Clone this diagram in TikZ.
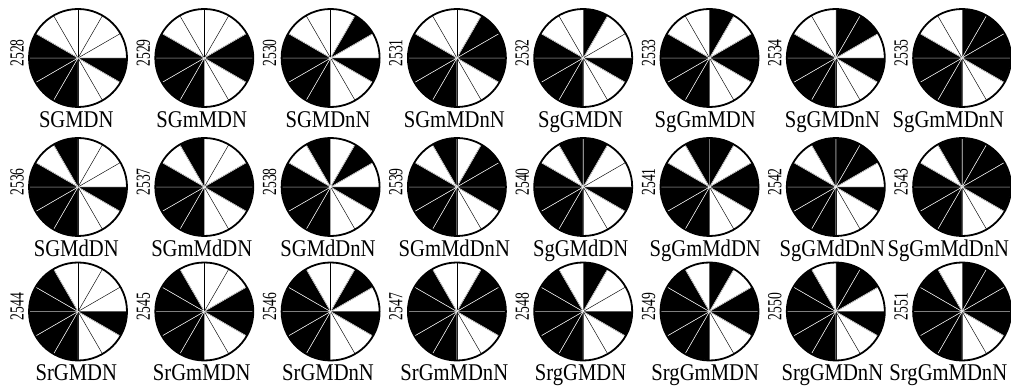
\documentclass[tikz,border=0pt]{standalone}
\usepackage{fontspec}
\setmainfont{Liberation Serif}
\usetikzlibrary{positioning}

\tikzset{
  wheel/.style={line width=1.8pt},
  spoke/.style={line width=0.45pt},
  codenum/.style={font=\fontsize{20}{20}\selectfont, rotate=90, inner sep=0pt},
  genotype/.style={font=\fontsize{24}{24}\selectfont, xscale=0.86, inner sep=0pt},
}

% setor preto de 30 graus: centro, angulo inicial
\newcommand{\blacksector}[2]{%
  \filldraw[fill=black, draw=white, spoke] (#1) -- ++(#2:49) arc[start angle=#2, end angle=#2-30, radius=49] -- cycle;}

\begin{document}
\begin{tikzpicture}[x=1pt, y=1pt]
    \useasboundingbox (0,0) rectangle (1011,388);
    % Linhas: indice, altura do centro, bits d e r
    \foreach \row/\cy/\dd/\rr in {0/330/0/0, 1/201/1/0, 2/76.5/0/1} {
      % Colunas: indice, bits g, n e m, desvio do nome
      \foreach \col/\gg/\nn/\mm/\dx in {0/0/0/0/-2, 1/0/0/1/-3, 2/0/1/0/-3, 3/0/1/1/-3, 4/1/0/0/-3, 5/1/0/1/-5, 6/1/1/0/-4, 7/1/1/1/-16} {
        \pgfmathsetmacro{\cx}{78+126.3*\col}
        \pgfmathtruncatemacro{\num}{2528+8*\row+\col}
        \coordinate (w\num) at (\cx,\cy);
        % Disco branco com raios pretos
        \fill[white] (w\num) circle (49);
        \foreach \a in {0,30,...,330}
            \draw[spoke] (w\num) -- ++(\a:49);
        % Setores pretos
        \foreach \a in {0,-90,-120,-150,180}
            \blacksector{w\num}{\a};
        \ifnum\gg=1 \blacksector{w\num}{90}\fi
        \ifnum\nn=1 \blacksector{w\num}{60}\fi
        \ifnum\mm=1 \blacksector{w\num}{30}\fi
        \ifnum\dd=1 \blacksector{w\num}{120}\fi
        \ifnum\rr=1 \blacksector{w\num}{150}\fi
        % Borda
        \draw[wheel] (w\num) circle (49);
        % Numero e nome
        \node[codenum] (c\num) at (\cx-61,\cy+5) {\scalebox{0.68}[1]{\num}};
        \node[genotype, below=53pt of w\num, xshift=\dx pt] (g\num)
            {S\ifnum\rr=1 r\fi\ifnum\gg=1 g\fi G\ifnum\mm=1 m\fi M\ifnum\dd=1 d\fi D\ifnum\nn=1 n\fi N};
      }
    }
\end{tikzpicture}
\end{document}
